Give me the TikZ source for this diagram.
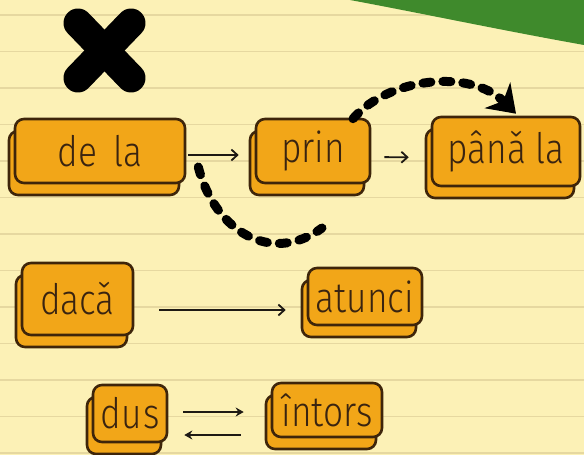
\documentclass[tikz,border=0pt]{standalone}
\usepackage{fontspec}
\newfontfamily\wfont{Fira Sans Light}[FakeStretch=0.84]
\usetikzlibrary{arrows.meta,shadows}
\definecolor{paper}{HTML}{FCF1B6}
\definecolor{rule}{HTML}{E6D8A0}
\definecolor{leaf}{HTML}{3F8A2C}
\definecolor{org}{HTML}{F2A618}
\definecolor{brd}{HTML}{3E250A}
\definecolor{txt}{HTML}{3A2410}
\definecolor{ink}{HTML}{1E1A14}
\tikzset{
  wbox/.style={rounded corners=9pt, draw=brd, line width=2.6pt, fill=org,
    text=txt, font=\wfont\fontsize{42}{46}\selectfont, inner sep=0pt,
    general shadow={fill=org, draw=brd, line width=2.6pt,
      shadow xshift=-6pt, shadow yshift=-12pt}},
  thinarrow/.style={draw=ink, line width=1.8pt, -{Straight Barb[length=6pt,width=11pt,line width=1.8pt]}},
  solidarrow/.style={draw=ink, line width=2pt, -{Stealth[length=8pt,width=9pt]}},
  dots/.style={draw=black, line width=9pt, dash pattern=on 8pt off 12pt, line cap=round},
}
\begin{document}
\begin{tikzpicture}[x=1pt,y=-1pt]
  \useasboundingbox (0,0) rectangle (584,455);
  \fill[paper] (0,0) rectangle (584,455);
  \foreach \k in {0,...,12} {
    \draw[rule, line width=1.6pt] (0,15+36.5*\k) -- (584,15+36.5*\k);
  }
  \fill[leaf] (350,0) -- (584,0) -- (584,45) .. controls (500,30) and (420,13) .. cycle;
  % cross
  \draw[black, line width=29pt, line cap=round] (78,23) -- (131,78);
  \draw[black, line width=29pt, line cap=round] (131,23) -- (78,78);
  % boxes
  \node[wbox, minimum width=170pt, minimum height=64pt] (dela) at (100,151) {de\hspace{16pt}la};
  \node[wbox, minimum width=114pt, minimum height=64pt] (prin) at (313,151) {prin};
  \node[wbox, minimum width=148pt, minimum height=69pt] (pana) at (506,151.5) {pânǎ la};
  \node[wbox, minimum width=111pt, minimum height=72pt] (daca) at (77.5,299) {dacǎ};
  \node[wbox, minimum width=114pt, minimum height=57pt] (atunci) at (365,296.5) {atunci};
  \node[wbox, minimum width=74pt, minimum height=57pt] (dus) at (130,413.5) {d\hspace{1pt}u\hspace{1pt}s};
  \node[wbox, minimum width=110pt, minimum height=54pt] (intors) at (327,410) {întors};
  % arrows
  \draw[thinarrow, shorten <=2pt, shorten >=16pt] ([yshift=-4pt]dela.east) -- ([yshift=-4pt]prin.west);
  \draw[thinarrow, shorten <=13pt, shorten >=22pt] ([yshift=-6pt]prin.east) -- ([yshift=-6pt]pana.west);
  \draw[thinarrow, shorten <=25pt, shorten >=21pt] ([yshift=-11pt]daca.east) -- ([yshift=-11pt]atunci.west |- daca.east);
  \draw[solidarrow, shorten <=15pt, shorten >=27pt] ([yshift=1.5pt]dus.east) -- ([yshift=-2pt]intors.west);
  \draw[solidarrow, shorten <=30pt, shorten >=16pt] ([yshift=-25pt]intors.west) -- ([yshift=-21.5pt]dus.east);
  % dotted curves
  \coordinate (lowend) at (322,228);
  \draw[dots] ([shift={(12,16)}]dela.east) .. controls (215,232) and (272,265) .. (lowend);
  \draw[dots, -{Stealth[length=26pt,width=36pt,inset=8pt]}] ([shift={(40,1)}]prin.north) .. controls (388,78) and (470,68) .. ([shift={(10,-2)}]pana.north);
\end{tikzpicture}
\end{document}
